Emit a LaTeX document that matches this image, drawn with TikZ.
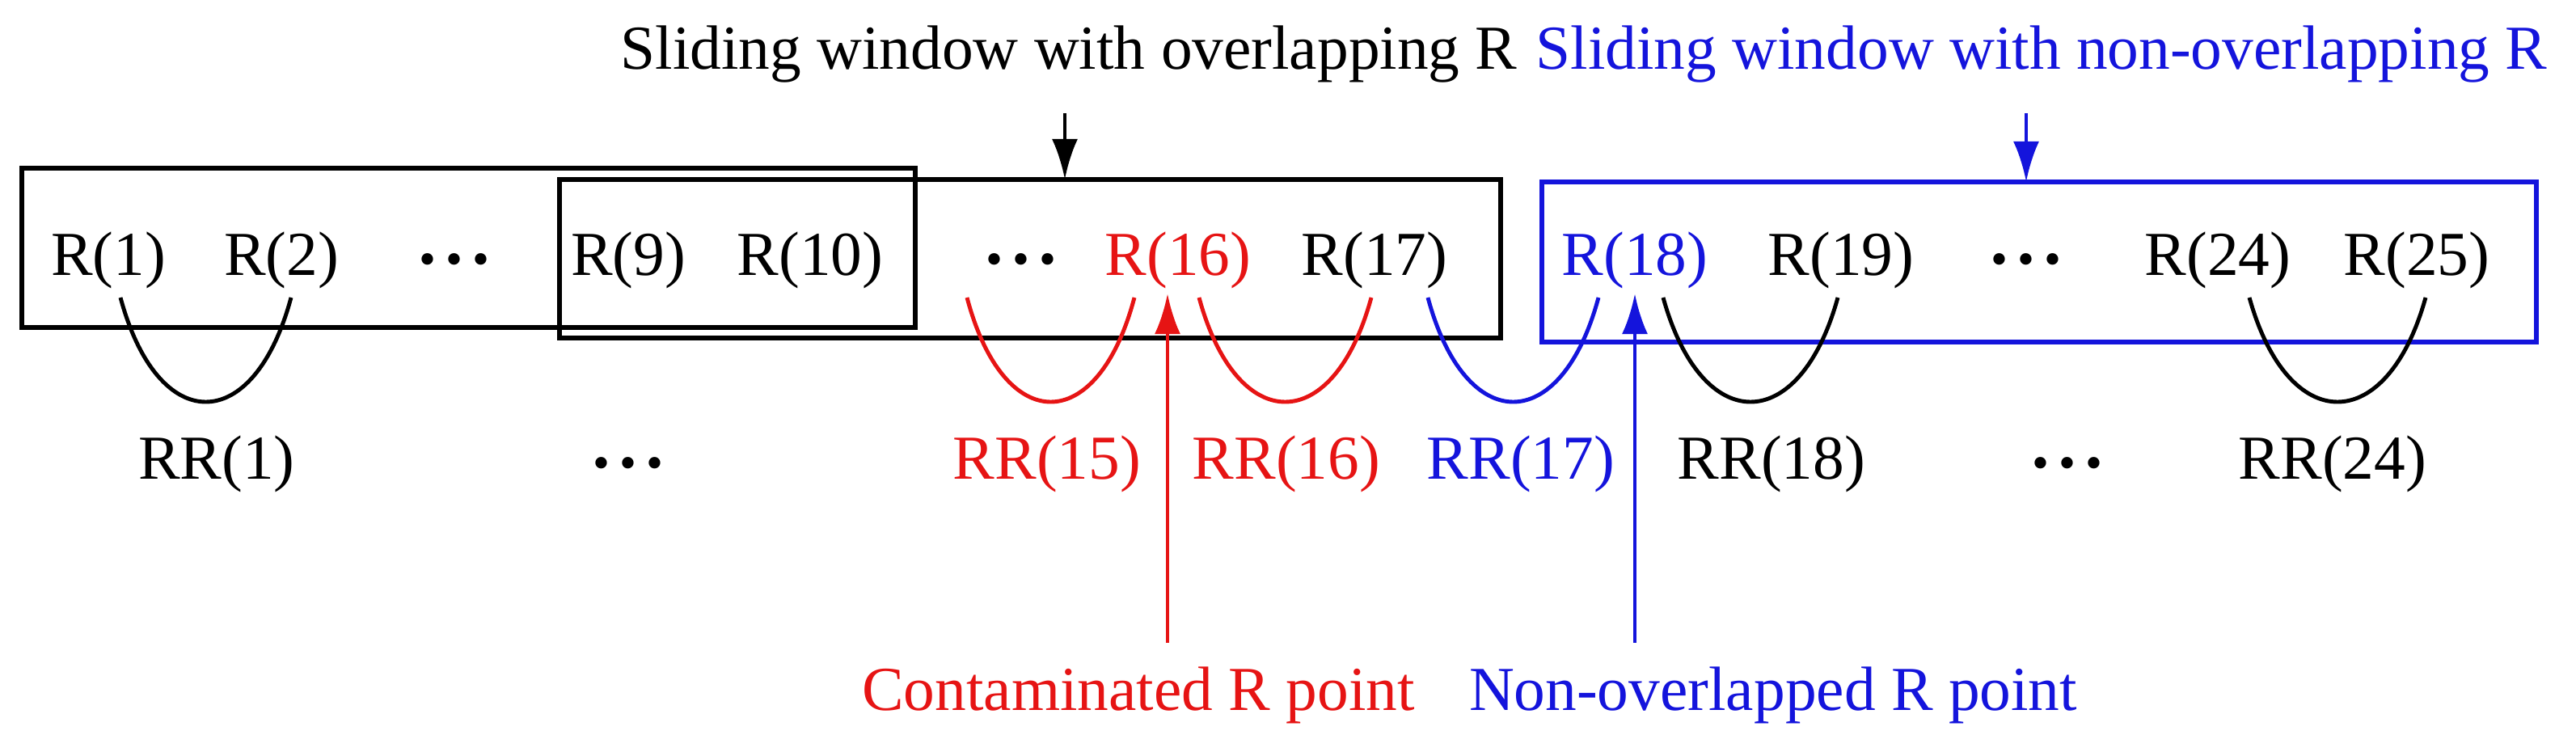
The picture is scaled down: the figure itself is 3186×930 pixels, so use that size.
\documentclass[tikz,border=0pt]{standalone}
\usepackage{fontspec}
\setmainfont{Liberation Serif}
\usetikzlibrary{arrows.meta}
\definecolor{myred}{RGB}{230,20,20}
\definecolor{myblue}{RGB}{20,20,220}
\newcommand{\mydots}{{\fontsize{17}{17}\selectfont\textbullet\hspace{0.2em}\textbullet\hspace{0.2em}\textbullet}}
\begin{document}
\begin{tikzpicture}[x=0.01cm,y=-0.01cm,
  lbl/.style={font=\fontsize{22}{26}\selectfont,inner sep=0pt,anchor=base},
  box/.style={line width=1.7pt},
  arc/.style={line width=1.4pt},
  arr/.style={line width=1.4pt,-{Latex[length=0.5cm,width=0.32cm]}}]
\useasboundingbox (0,0) rectangle (3186,930);
% boxes
\draw[box] (27,208) rectangle (1132,405);
\draw[box] (692,222) rectangle (1856,418);
\draw[box,myblue] (1907,225) rectangle (3137,423);
% R labels
\foreach \n/\x/\t/\c in {r1/134/R(1)/black, r2/348/R(2)/black, d1/562/\mydots/black,
  r9/777/R(9)/black, r10/1002/R(10)/black, d2/1263/\mydots/black,
  r16/1457/R(16)/myred, r17/1700/R(17)/black, r18/2022/R(18)/myblue, r19/2277/R(19)/black,
  d3/2506/\mydots/black, r24/2743/R(24)/black, r25/2989/R(25)/black}
  \node[lbl,text=\c] (\n) at (\x,340) {\t};
% RR labels
\foreach \n/\x/\t/\c in {rr1/268/RR(1)/black, e1/777/\mydots/black,
  rr15/1295/RR(15)/myred, rr16/1591/RR(16)/myred, rr17/1881/RR(17)/myblue,
  rr18/2191/RR(18)/black, e2/2557/\mydots/black, rr24/2885/RR(24)/black}
  \node[lbl,text=\c] (\n) at (\x,592) {\t};
% arcs
\foreach \a/\b/\c in {149/360/black, 1196/1403/myred, 1483/1696/myred, 1766/1977/myblue, 2057/2273/black, 2782/3000/black}{
  \coordinate (a\a) at (\a,368);
  \coordinate (b\a) at (\b,368);
  \draw[arc,\c] (a\a) .. controls ({\a+0.22*(\b-\a)},540) and ({\b-0.22*(\b-\a)},540) .. (b\a);
}
% top labels
\node[lbl] (tl) at (1322,85) {Sliding window with overlapping R};
\node[lbl,text=myblue] (tr) at (2525,85) {Sliding window with non-overlapping R};
\coordinate (tla) at (1317,140);
\coordinate (tra) at (2506,140);
\draw[arr] (tla) -- (tla |- 0,222);
\draw[arr,myblue] (tra) -- (tra |- 0,225);
% bottom labels
\node[lbl,text=myred] (cl) at (1408,878) {Contaminated R point};
\node[lbl,text=myblue] (nl) at (2193,878) {Non-overlapped R point};
\coordinate (ca) at (1444,795);
\coordinate (na) at (2022,795);
\draw[arr,myred] (ca) -- (ca |- 0,363);
\draw[arr,myblue] (na) -- (na |- 0,363);
\end{tikzpicture}
\end{document}
